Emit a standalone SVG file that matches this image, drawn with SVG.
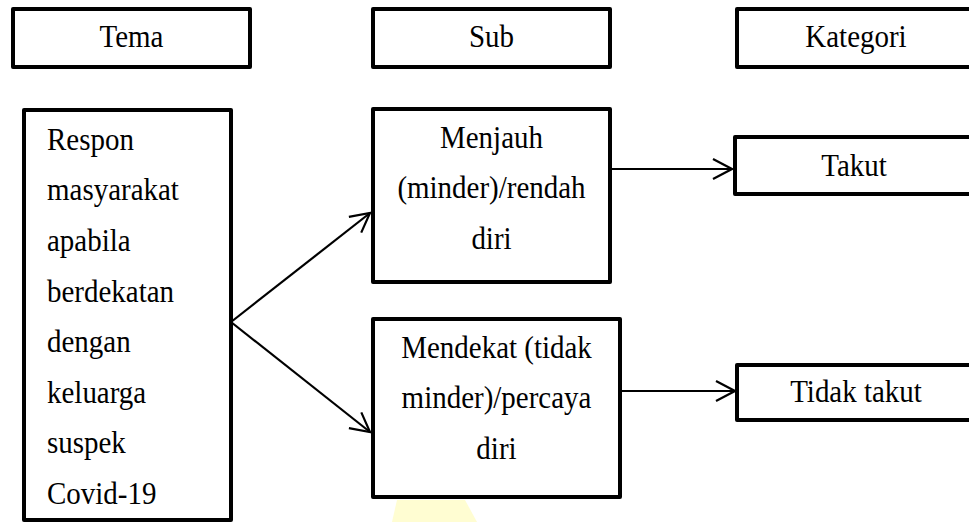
<svg xmlns="http://www.w3.org/2000/svg" width="969" height="522" viewBox="0 0 969 522">
<style>
.box{fill:#fff;stroke:#000;stroke-width:4;stroke-linejoin:round}
.t{font-family:"Liberation Serif","Times New Roman",serif;font-size:31.5px;fill:#000;transform-box:fill-box;transform:scaleX(0.92)}
.c{text-anchor:middle;transform-origin:center}
.l{transform-origin:left center}
.conn{stroke:#000;stroke-width:2.2;fill:none}
</style>
<defs>
<marker id="arr" markerUnits="userSpaceOnUse" viewBox="-22 -12 24 24" refX="0" refY="0" markerWidth="24" markerHeight="24" orient="auto">
<path d="M-19,-10 L0,0 L-19,10" fill="none" stroke="#000" stroke-width="2.2" stroke-linejoin="miter"/>
</marker>
</defs>
<rect width="969" height="522" fill="#fff"/>
<polygon points="392,522 397,500 465,500 477,522" fill="#FFFDD2"/>
<g id="hdr-tema"><rect class="box" x="13" y="9" width="237" height="58"/><text class="t c" x="131.5" y="47">Tema</text></g>
<g id="hdr-sub"><rect class="box" x="373" y="9" width="237" height="58"/><text class="t c" x="491.5" y="47">Sub</text></g>
<g id="hdr-kategori"><rect class="box" x="737" y="9" width="238" height="58"/><text class="t c" x="856" y="47">Kategori</text></g>
<g id="tema"><rect class="box" x="24" y="110" width="207" height="410"/>
<text class="t l" x="47" y="150">Respon</text>
<text class="t l" x="47" y="200">masyarakat</text>
<text class="t l" x="47" y="251">apabila</text>
<text class="t l" x="47" y="302">berdekatan</text>
<text class="t l" x="47" y="352">dengan</text>
<text class="t l" x="47" y="403">keluarga</text>
<text class="t l" x="47" y="453">suspek</text>
<text class="t l" x="47" y="504">Covid-19</text>
</g>
<g id="sub1"><rect class="box" x="373" y="109" width="237" height="173"/>
<text class="t c" x="491.5" y="148">Menjauh</text>
<text class="t c" x="491.5" y="198">(minder)/rendah</text>
<text class="t c" x="491.5" y="249">diri</text>
</g>
<g id="sub2"><rect class="box" x="373" y="319" width="247" height="178"/>
<text class="t c" x="496.5" y="358">Mendekat (tidak</text>
<text class="t c" x="496.5" y="408">minder)/percaya</text>
<text class="t c" x="496.5" y="459">diri</text>
</g>
<g id="kat1"><rect class="box" x="735" y="137" width="240" height="57"/><text class="t c" x="854" y="176">Takut</text></g>
<g id="kat2"><rect class="box" x="737" y="365" width="238" height="55"/><text class="t c" x="856" y="402">Tidak takut</text></g>
<g id="connectors">
<line class="conn" x1="231" y1="322" x2="370" y2="213" marker-end="url(#arr)"/>
<line class="conn" x1="231" y1="322" x2="370" y2="432" marker-end="url(#arr)"/>
<line class="conn" x1="610" y1="169" x2="732" y2="169" marker-end="url(#arr)"/>
<line class="conn" x1="620" y1="391" x2="735" y2="391" marker-end="url(#arr)"/>
</g>
</svg>
